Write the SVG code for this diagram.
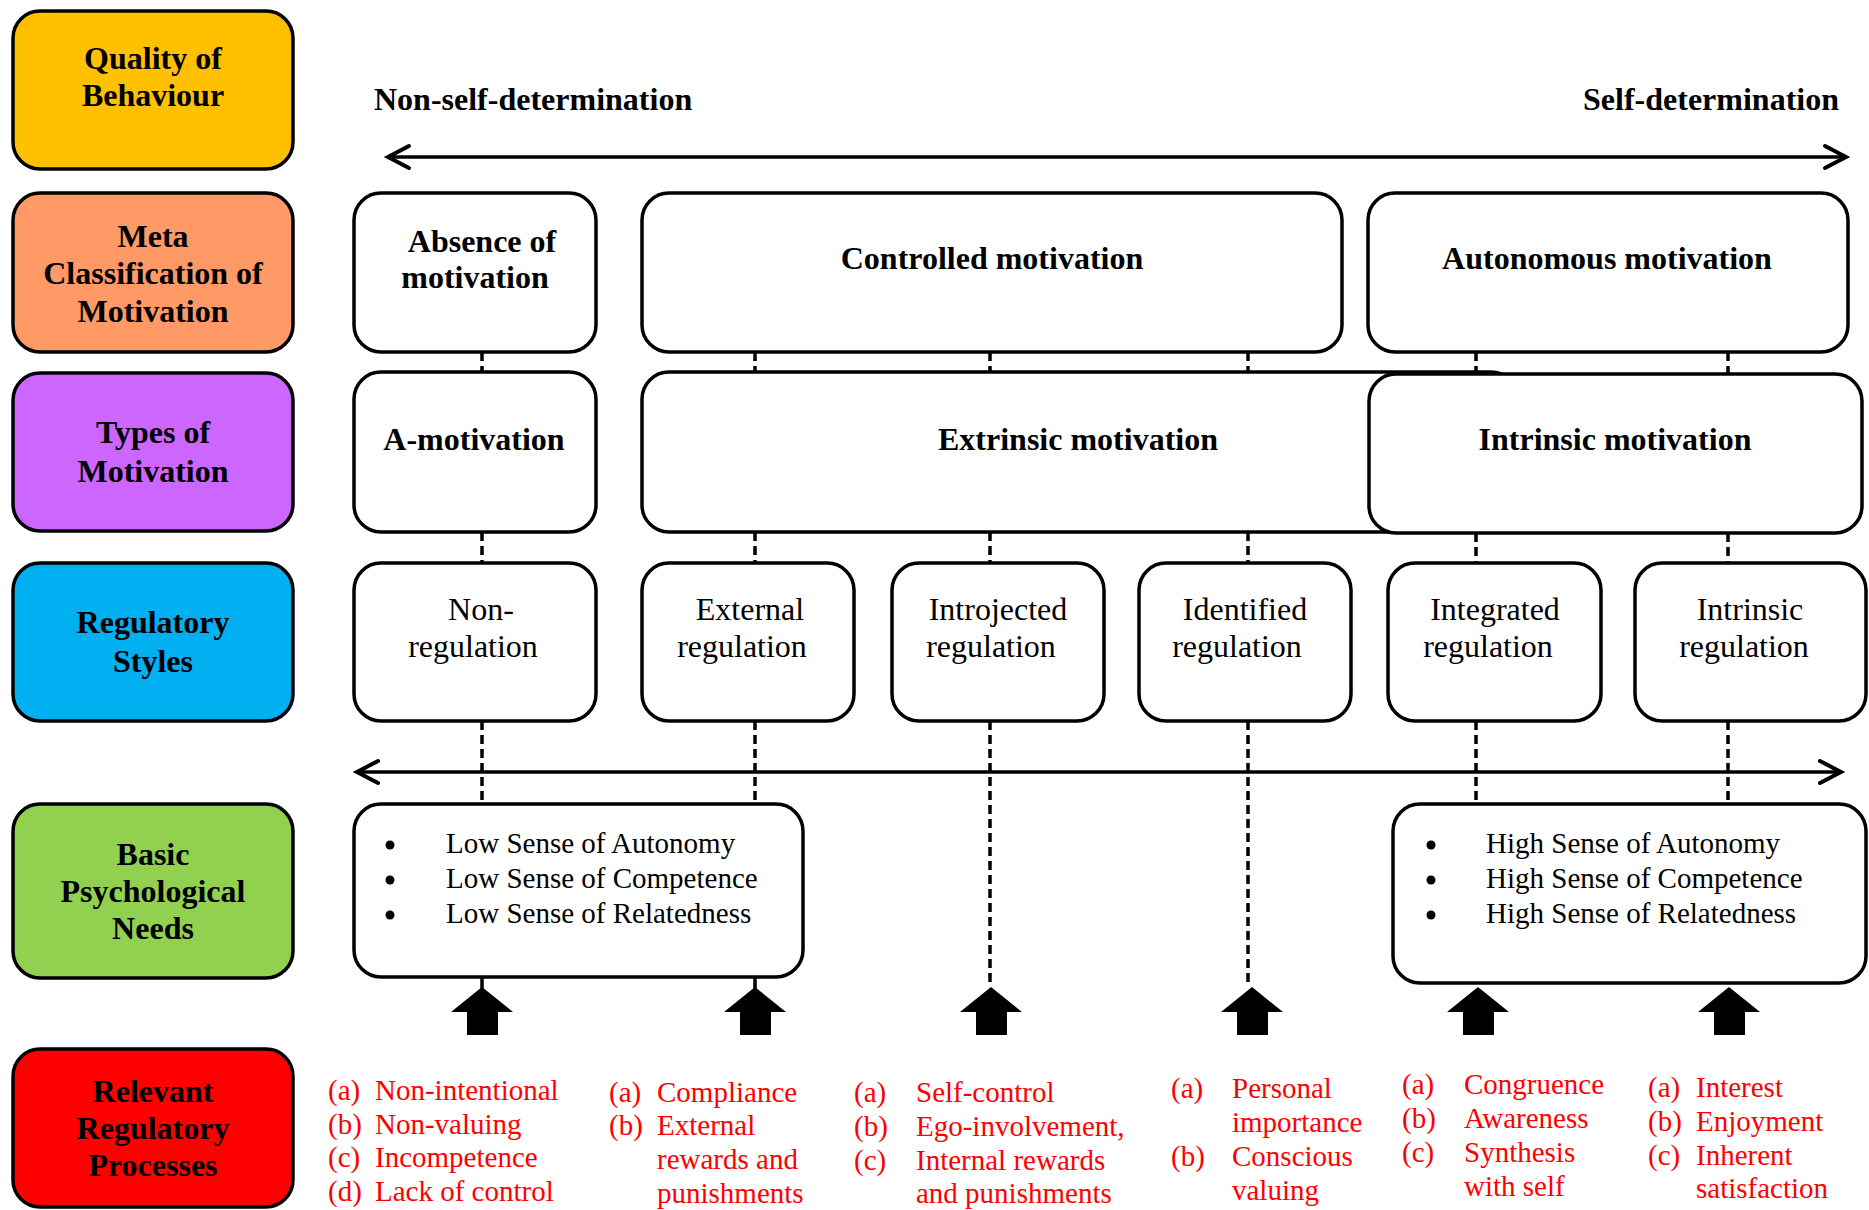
<svg xmlns="http://www.w3.org/2000/svg" xmlns:xlink="http://www.w3.org/1999/xlink" width="1869" height="1210" viewBox="0 0 1869 1210">
<style>
.box{stroke:#000;stroke-width:3.5;}
.wb{fill:#fff;stroke:#000;stroke-width:3.5;}
.hd{font-family:"Liberation Serif","Times New Roman",serif;font-weight:bold;font-size:32px;fill:#000;text-anchor:middle;}
.rg{font-family:"Liberation Serif","Times New Roman",serif;font-size:32px;fill:#000;text-anchor:middle;}
.bl{font-family:"Liberation Serif","Times New Roman",serif;font-size:29px;fill:#000;}
.rd{font-family:"Liberation Serif","Times New Roman",serif;font-size:29px;fill:#ff0000;}
.dash{stroke:#000;stroke-width:3.5;stroke-dasharray:9 5;fill:none;}
.solid{stroke:#000;stroke-width:3.5;fill:none;}
</style>
<defs>
<marker id="chev" markerUnits="userSpaceOnUse" markerWidth="30" markerHeight="30" refX="0" refY="0" viewBox="-25 -15 30 30" orient="auto-start-reverse">
<path d="M -21 -11 L 0 0 L -21 11" fill="none" stroke="#000" stroke-width="4" stroke-linecap="round" stroke-linejoin="miter"/>
</marker>
<polygon id="up" points="0,987 31,1012 16,1012 16,1035 -15,1035 -15,1012 -31,1012" fill="#000"/>
</defs>
<rect width="1869" height="1210" fill="#fff"/>

<!-- left column category boxes -->
<g id="quality">
<rect class="box" x="13" y="11" width="280" height="158" rx="27" fill="#FFC000"/>
<text class="hd" x="153" y="69">Quality of</text>
<text class="hd" x="153" y="106">Behaviour</text>
</g>
<g id="meta">
<rect class="box" x="13" y="193" width="280" height="159" rx="27" fill="#FF9966"/>
<text class="hd" x="153" y="247">Meta</text>
<text class="hd" x="153" y="284">Classification of</text>
<text class="hd" x="153" y="322">Motivation</text>
</g>
<g id="types">
<rect class="box" x="13" y="373" width="280" height="158" rx="27" fill="#CC66FF"/>
<text class="hd" x="153" y="443">Types of</text>
<text class="hd" x="153" y="482">Motivation</text>
</g>
<g id="regstyles">
<rect class="box" x="13" y="563" width="280" height="158" rx="27" fill="#00B0F0"/>
<text class="hd" x="153" y="633">Regulatory</text>
<text class="hd" x="153" y="672">Styles</text>
</g>
<g id="basic">
<rect class="box" x="13" y="804" width="280" height="174" rx="27" fill="#92D050"/>
<text class="hd" x="153" y="865">Basic</text>
<text class="hd" x="153" y="902">Psychological</text>
<text class="hd" x="153" y="939">Needs</text>
</g>
<g id="relevant">
<rect class="box" x="13" y="1049" width="280" height="158" rx="27" fill="#FF0000"/>
<text class="hd" x="153" y="1102">Relevant</text>
<text class="hd" x="153" y="1139">Regulatory</text>
<text class="hd" x="153" y="1176">Processes</text>
</g>

<!-- top labels -->
<g id="top-labels">
<text class="hd" x="374" y="110" style="text-anchor:start">Non-self-determination</text>
<text class="hd" x="1839" y="110" style="text-anchor:end">Self-determination</text>
</g>

<!-- connectors -->
<g id="connectors">
<line class="solid" x1="388" y1="157" x2="1846" y2="157" marker-start="url(#chev)" marker-end="url(#chev)"/>
<line class="solid" x1="357" y1="772" x2="1841" y2="772" marker-start="url(#chev)" marker-end="url(#chev)"/>
<!-- row 2 to row 3 -->
<line class="dash" x1="482" y1="352" x2="482" y2="373"/>
<line class="dash" x1="755" y1="352" x2="755" y2="372"/>
<line class="dash" x1="990" y1="352" x2="990" y2="372"/>
<line class="dash" x1="1248" y1="352" x2="1248" y2="372"/>
<line class="dash" x1="1476" y1="352" x2="1476" y2="374"/>
<line class="dash" x1="1728" y1="352" x2="1728" y2="374"/>
<!-- row 3 to row 4 -->
<line class="dash" x1="482" y1="532" x2="482" y2="563"/>
<line class="dash" x1="755" y1="532" x2="755" y2="563"/>
<line class="dash" x1="990" y1="532" x2="990" y2="563"/>
<line class="dash" x1="1248" y1="532" x2="1248" y2="563"/>
<line class="dash" x1="1476" y1="533" x2="1476" y2="563"/>
<line class="dash" x1="1728" y1="533" x2="1728" y2="563"/>
<!-- row 4 downwards -->
<line class="dash" x1="482" y1="721" x2="482" y2="804"/>
<line class="dash" x1="755" y1="721" x2="755" y2="804"/>
<line class="dash" x1="990" y1="721" x2="990" y2="987"/>
<line class="dash" x1="1248" y1="721" x2="1248" y2="987"/>
<line class="dash" x1="1476" y1="721" x2="1476" y2="804"/>
<line class="dash" x1="1728" y1="721" x2="1728" y2="804"/>
<!-- stubs to block arrows -->
<line class="solid" x1="482" y1="977" x2="482" y2="990"/>
<line class="solid" x1="755" y1="977" x2="755" y2="990"/>
<!-- block arrows -->
<use xlink:href="#up" href="#up" x="482"/>
<use xlink:href="#up" href="#up" x="755"/>
<use xlink:href="#up" href="#up" x="991"/>
<use xlink:href="#up" href="#up" x="1252"/>
<use xlink:href="#up" href="#up" x="1478"/>
<use xlink:href="#up" href="#up" x="1729"/>
</g>

<!-- row 2: meta classification -->
<g id="absence">
<rect class="wb" x="354" y="193" width="242" height="159" rx="27"/>
<text class="hd" x="482" y="252">Absence of</text>
<text class="hd" x="475" y="288">motivation</text>
</g>
<g id="controlled">
<rect class="wb" x="642" y="193" width="700" height="159" rx="27"/>
<text class="hd" x="992" y="269">Controlled motivation</text>
</g>
<g id="autonomous">
<rect class="wb" x="1368" y="193" width="480" height="159" rx="27"/>
<text class="hd" x="1607" y="269">Autonomous motivation</text>
</g>

<!-- row 3: types -->
<g id="amotivation">
<rect class="wb" x="354" y="372" width="242" height="160" rx="27"/>
<text class="hd" x="474" y="450">A-motivation</text>
</g>
<g id="extrinsic">
<rect class="wb" x="642" y="372" width="876" height="160" rx="27"/>
<text class="hd" x="1078" y="450">Extrinsic motivation</text>
</g>
<g id="intrinsic">
<rect class="wb" x="1369" y="374" width="493" height="159" rx="27"/>
<text class="hd" x="1615" y="450">Intrinsic motivation</text>
</g>

<!-- row 4: regulatory styles -->
<g id="nonreg">
<rect class="wb" x="354" y="563" width="242" height="158" rx="27"/>
<text class="rg" x="481" y="620">Non-</text>
<text class="rg" x="473" y="657">regulation</text>
</g>
<g id="external">
<rect class="wb" x="642" y="563" width="212" height="158" rx="27"/>
<text class="rg" x="750" y="620">External</text>
<text class="rg" x="742" y="657">regulation</text>
</g>
<g id="introjected">
<rect class="wb" x="892" y="563" width="212" height="158" rx="27"/>
<text class="rg" x="998" y="620">Introjected</text>
<text class="rg" x="991" y="657">regulation</text>
</g>
<g id="identified">
<rect class="wb" x="1139" y="563" width="212" height="158" rx="27"/>
<text class="rg" x="1245" y="620">Identified</text>
<text class="rg" x="1237" y="657">regulation</text>
</g>
<g id="integrated">
<rect class="wb" x="1388" y="563" width="213" height="158" rx="27"/>
<text class="rg" x="1495" y="620">Integrated</text>
<text class="rg" x="1488" y="657">regulation</text>
</g>
<g id="intrinsicreg">
<rect class="wb" x="1635" y="563" width="231" height="158" rx="27"/>
<text class="rg" x="1750" y="620">Intrinsic</text>
<text class="rg" x="1744" y="657">regulation</text>
</g>

<!-- basic needs -->
<g id="low-needs">
<rect class="wb" x="354" y="804" width="449" height="173" rx="27"/>
<circle cx="390" cy="845" r="4.5"/>
<circle cx="390" cy="880" r="4.5"/>
<circle cx="390" cy="915" r="4.5"/>
<text class="bl" x="446" y="853">Low Sense of Autonomy</text>
<text class="bl" x="446" y="888">Low Sense of Competence</text>
<text class="bl" x="446" y="923">Low Sense of Relatedness</text>
</g>
<g id="high-needs">
<rect class="wb" x="1393" y="804" width="473" height="179" rx="27"/>
<circle cx="1431" cy="845" r="4.5"/>
<circle cx="1431" cy="880" r="4.5"/>
<circle cx="1431" cy="915" r="4.5"/>
<text class="bl" x="1486" y="853">High Sense of Autonomy</text>
<text class="bl" x="1486" y="888">High Sense of Competence</text>
<text class="bl" x="1486" y="923">High Sense of Relatedness</text>
</g>

<!-- relevant regulatory processes -->
<g id="proc-nonreg">
<text class="rd" x="328" y="1100">(a)</text><text class="rd" x="375" y="1100">Non-intentional</text>
<text class="rd" x="328" y="1134">(b)</text><text class="rd" x="375" y="1134">Non-valuing</text>
<text class="rd" x="328" y="1167">(c)</text><text class="rd" x="375" y="1167">Incompetence</text>
<text class="rd" x="328" y="1201">(d)</text><text class="rd" x="375" y="1201">Lack of control</text>
</g>
<g id="proc-external">
<text class="rd" x="609" y="1102">(a)</text><text class="rd" x="657" y="1102">Compliance</text>
<text class="rd" x="609" y="1135">(b)</text><text class="rd" x="657" y="1135">External</text>
<text class="rd" x="657" y="1169">rewards and</text>
<text class="rd" x="657" y="1203">punishments</text>
</g>
<g id="proc-introjected">
<text class="rd" x="854" y="1102">(a)</text><text class="rd" x="916" y="1102">Self-control</text>
<text class="rd" x="854" y="1136">(b)</text><text class="rd" x="916" y="1136">Ego-involvement,</text>
<text class="rd" x="854" y="1170">(c)</text><text class="rd" x="916" y="1170">Internal rewards</text>
<text class="rd" x="916" y="1203">and punishments</text>
</g>
<g id="proc-identified">
<text class="rd" x="1171" y="1098">(a)</text><text class="rd" x="1232" y="1098">Personal</text>
<text class="rd" x="1232" y="1132">importance</text>
<text class="rd" x="1171" y="1166">(b)</text><text class="rd" x="1232" y="1166">Conscious</text>
<text class="rd" x="1232" y="1200">valuing</text>
</g>
<g id="proc-integrated">
<text class="rd" x="1402" y="1094">(a)</text><text class="rd" x="1464" y="1094">Congruence</text>
<text class="rd" x="1402" y="1128">(b)</text><text class="rd" x="1464" y="1128">Awareness</text>
<text class="rd" x="1402" y="1162">(c)</text><text class="rd" x="1464" y="1162">Synthesis</text>
<text class="rd" x="1464" y="1196">with self</text>
</g>
<g id="proc-intrinsic">
<text class="rd" x="1648" y="1097">(a)</text><text class="rd" x="1696" y="1097">Interest</text>
<text class="rd" x="1648" y="1131">(b)</text><text class="rd" x="1696" y="1131">Enjoyment</text>
<text class="rd" x="1648" y="1165">(c)</text><text class="rd" x="1696" y="1165">Inherent</text>
<text class="rd" x="1696" y="1198">satisfaction</text>
</g>
</svg>
